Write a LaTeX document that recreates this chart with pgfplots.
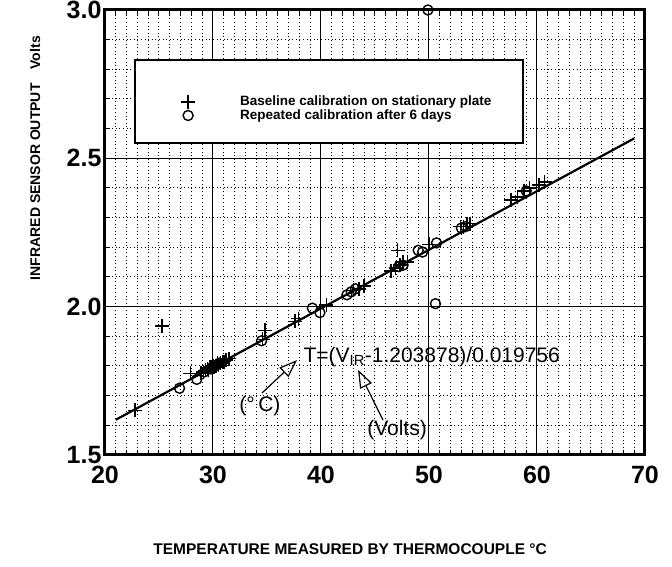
\documentclass[border=0pt]{standalone}
\usepackage{fontspec}
\setmainfont{Liberation Sans}
\usepackage{pgfplots}
\pgfplotsset{compat=1.18}
\usetikzlibrary{arrows.meta}

\begin{document}
\begin{tikzpicture}
\begin{axis}[
  at={(0,0)}, anchor=south west,
  scale only axis, width=540pt, height=445pt,
  xmin=20, xmax=70, ymin=1.5, ymax=3.0,
  xtick={20,30,...,70}, ytick={1.5,2.0,2.5,3.0},
  minor x tick num=9, minor y tick num=4,
  grid=both,
  major grid style={black, line width=1pt},
  minor grid style={black, line width=1pt, dash pattern=on 1pt off 2.6pt},
  axis line style={line width=3pt},
  tick style={black, line width=1pt},
  major tick length=0pt, minor tick length=5pt,
  tick align=inside,
  ticklabel style={font=\fontsize{25}{28}\selectfont\bfseries},
  /pgf/number format/assume math mode=true,
  y tick label style={/pgf/number format/fixed, /pgf/number format/fixed zerofill, /pgf/number format/precision=1},
  xticklabel style={yshift=-8pt},
  xlabel={TEMPERATURE MEASURED BY THERMOCOUPLE °C},
  xlabel style={at={(rel axis cs:0.454,-0.211)}, anchor=center, font=\fontsize{15.5}{18}\selectfont\bfseries},
  ylabel={INFRARED SENSOR OUTPUT\quad Volts},
  ylabel style={at={(rel axis cs:-0.1296,0.667)}, anchor=center, font=\fontsize{14}{16}\selectfont\bfseries},
  legend style={draw=none, fill=none, at={(axis cs:24.9,2.668)}, anchor=west,
    inner sep=0pt, column sep=20pt, row sep=0pt,
    nodes={inner ysep=1pt, inner xsep=2pt},
    font=\fontsize{13.5}{15}\selectfont\bfseries},
  legend cell align=left,
  legend image code/.code={\path[draw=none, fill=none] (0pt,-3pt) rectangle (60pt,3pt);
    \draw[#1, only marks] plot coordinates {(30pt,0pt)};},
]
% legend frame
\filldraw[fill=white, draw=black, line width=2pt] (axis cs:22.78,2.5517) rectangle (axis cs:58.70,2.8315);

% fitted calibration line
\addplot[black, line width=2.2pt, forget plot] coordinates {(21,1.6188) (69,2.5671)};

\addplot[black, only marks, mark=+, mark size=7pt, line width=1.5pt] coordinates {
(22.8,1.65) (25.3,1.935) (27.9,1.775)
(28.9,1.775) (29.1,1.78) (29.3,1.785) (29.5,1.79) (29.6,1.785) (29.7,1.795) (29.9,1.795)
(30.0,1.80) (30.1,1.795) (30.3,1.80) (30.4,1.81) (30.5,1.805) (30.7,1.81) (30.9,1.815)
(31.0,1.815) (31.2,1.82) (31.5,1.825)
(34.6,1.89) (34.8,1.92) (37.6,1.95) (37.9,1.96) (40.5,2.005)
(43.0,2.055) (43.5,2.06) (44.0,2.07)
(46.5,2.12) (46.9,2.13) (47.1,2.19) (47.3,2.14) (47.6,2.15) (48.0,2.15)
(50.0,2.21)
(52.9,2.27) (53.2,2.27) (53.5,2.28) (53.8,2.28)
(57.6,2.36) (58.2,2.37) (58.8,2.39) (59.3,2.40) (60.2,2.41) (60.7,2.42)
};
\addlegendentry{Baseline calibration on stationary plate}

\addplot[black, only marks, mark=o, mark size=5pt, line width=1.4pt] coordinates {
(26.9,1.725) (28.5,1.755) (29.2,1.78) (29.8,1.79) (30.2,1.80) (30.6,1.81)
(34.5,1.885) (39.2,1.995) (39.9,1.98)
(42.4,2.04) (42.8,2.05) (43.2,2.06)
(47.2,2.135) (47.6,2.14)
(49.0,2.19) (49.4,2.184) (50.7,2.215)
(50.6,2.01) (49.9,3.0)
(53.0,2.265) (53.4,2.27) (59.0,2.39)
};
\addlegendentry{Repeated calibration after 6 days}

% annotation
\node[anchor=west, font=\fontsize{21}{24}\selectfont] at (axis cs:38.06,1.8305) {T=(V\textsubscript{IR}-1.203878)/0.019756};
\node[font=\fontsize{21}{24}\selectfont] at (axis cs:34.35,1.665) {(°\,C)};
\node[font=\fontsize{21}{24}\selectfont] at (axis cs:47.04,1.584) {(Volts)};
\draw[line width=1.2pt, -{Triangle[open, length=18pt, width=13pt, line width=1.2pt]}] (axis cs:34.54,1.709) -- (axis cs:37.78,1.820);
\draw[line width=1.2pt, -{Triangle[open, length=18pt, width=13pt, line width=1.2pt]}] (axis cs:45.74,1.618) -- (axis cs:43.43,1.787);
\end{axis}
\pgfresetboundingbox
\useasboundingbox (-105pt,-112pt) rectangle (567pt,455pt);
\end{tikzpicture}
\end{document}
